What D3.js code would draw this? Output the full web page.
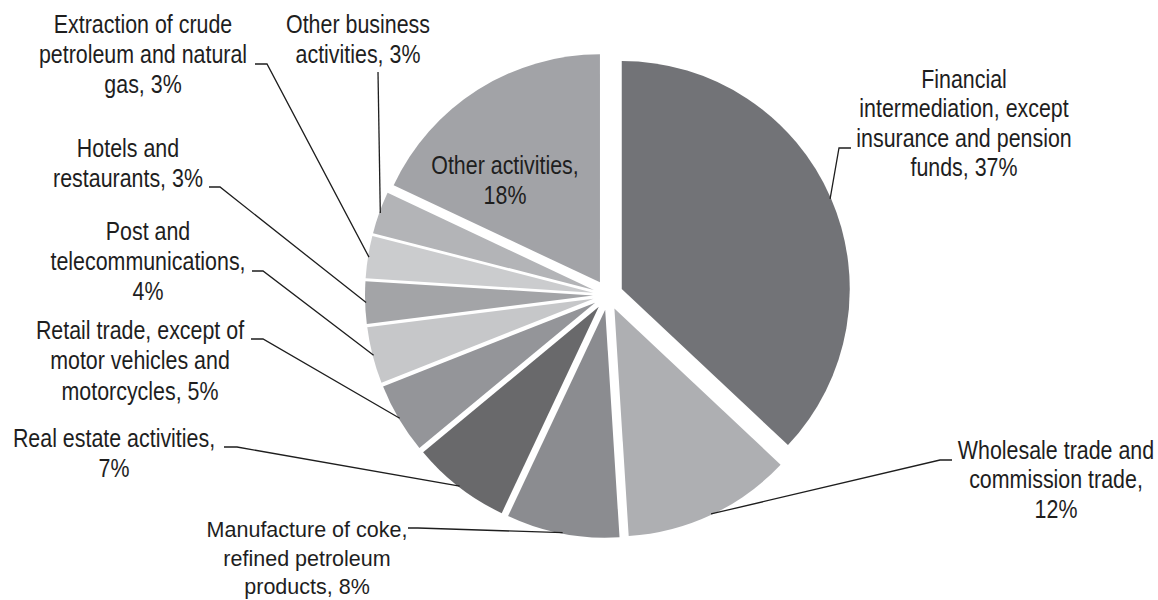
<!DOCTYPE html>
<html>
<head>
<meta charset="utf-8">
<script src="https://cdn.jsdelivr.net/npm/d3@7"></script>
<style>
  html, body { margin: 0; padding: 0; background: #ffffff; }
  svg { display: block; }
</style>
</head>
<body>
<svg id="chart" width="1158" height="600"></svg>
<script>
// Industry shares, in percent, clockwise from 12 o'clock
const categories = [
  "Financial intermediation, except insurance and pension funds",
  "Wholesale trade and commission trade",
  "Manufacture of coke, refined petroleum products",
  "Real estate activities",
  "Retail trade, except of motor vehicles and motorcycles",
  "Post and telecommunications",
  "Hotels and restaurants",
  "Extraction of crude petroleum and natural gas",
  "Other business activities",
  "Other activities"
];
const shares = [37, 12, 8, 7, 5, 4, 3, 3, 3, 18];

// Label text, broken into lines; {p} is replaced by the share
const labelLines = [
  ["Financial", "intermediation, except", "insurance and pension", "funds, {p}"],
  ["Wholesale trade and", "commission trade,", "{p}"],
  ["Manufacture of coke,", "refined petroleum", "products, {p}"],
  ["Real estate activities,", "{p}"],
  ["Retail trade, except of", "motor vehicles and", "motorcycles, {p}"],
  ["Post and", "telecommunications,", "{p}"],
  ["Hotels and", "restaurants, {p}"],
  ["Extraction of crude", "petroleum and natural", "gas, {p}"],
  ["Other business", "activities, {p}"],
  ["Other activities,", "{p}"]
];

const palette = ["#727377", "#aeafb2", "#8b8c90", "#69696b", "#949599",
                 "#c6c7c9", "#a3a4a7", "#cbccce", "#b3b4b7", "#a2a3a7"];

// Label placement: centre x, first baseline, line height, leader tick [x0, y, x1]
const labelLayout = [
  { x: 964,  y: 88,  lh: 29.5, tick: [851, 148, 839] },
  { x: 1056, y: 459, lh: 29.5, tick: [952, 460, 940] },
  { x: 307,  y: 537, lh: 28.5, tick: [408, 528, 418], small: true },
  { x: 114,  y: 447, lh: 30,   tick: [224, 447, 237] },
  { x: 140,  y: 339, lh: 30.5, tick: [251, 339, 263] },
  { x: 148,  y: 240, lh: 30,   tick: [252, 271, 263] },
  { x: 128,  y: 157, lh: 30,   tick: [209, 187, 220] },
  { x: 143,  y: 33,  lh: 30,   tick: [255, 64, 267] },
  { x: 358,  y: 33,  lh: 30,   tick: [378, 72, 378] },
  { x: 505,  y: 174, lh: 30,   inside: true }
];

const width = 1158, height = 600;
const cx = 608, cy = 295, radius = 228, explode = 15;
const narrow = 0.84;   // horizontal squeeze giving a condensed face

const svg = d3.select("#chart");
const data = categories.map((c, i) => ({ name: c, value: shares[i], i }));

const pie = d3.pie().sort(null).value(d => d.value);
const arc = d3.arc().innerRadius(0).outerRadius(radius);
const arcs = pie(data);

const pct = v => d3.format("d")(v) + "%";
const mid = a => (a.startAngle + a.endAngle) / 2;

const g = svg.append("g").attr("transform", `translate(${cx},${cy})`);

// Slices, each pushed outward along its bisector
g.selectAll("path.slice")
  .data(arcs)
  .join("path")
  .attr("class", "slice")
  .attr("d", arc)
  .attr("fill", d => palette[d.index])
  .attr("transform", d => {
    const a = mid(d);
    return `translate(${explode * Math.sin(a)},${-explode * Math.cos(a)})`;
  });

// Leader lines from the label tick to the slice rim
const leaders = svg.append("g")
  .attr("fill", "none")
  .attr("stroke", "#1e1e1e")
  .attr("stroke-width", 1.3);

arcs.forEach(d => {
  const L = labelLayout[d.index];
  if (L.inside) return;
  const a = mid(d);
  const r = radius + explode - 1;
  const px = cx + r * Math.sin(a), py = cy - r * Math.cos(a);
  const pts = [[L.tick[0], L.tick[1]], [L.tick[2], L.tick[1]], [px, py]];
  leaders.append("path").attr("d", d3.line()(pts));
});

// Labels
const labels = svg.append("g").attr("fill", "#1e1e1e").attr("text-anchor", "middle");
arcs.forEach(d => {
  const L = labelLayout[d.index];
  const lines = labelLines[d.index].map(s => s.replace("{p}", pct(d.value)));
  const sx = L.small ? 1 : narrow;
  const t = labels.append("text")
    .attr("transform", `translate(${L.x},${L.y}) scale(${sx},1)`)
    .style("font-family", "'Liberation Sans', Arial, sans-serif")
    .style("font-size", L.small ? "21.5px" : "25.5px");
  lines.forEach((s, k) => {
    t.append("tspan").attr("x", 0).attr("y", k * L.lh).text(s);
  });
});
</script>
</body>
</html>
